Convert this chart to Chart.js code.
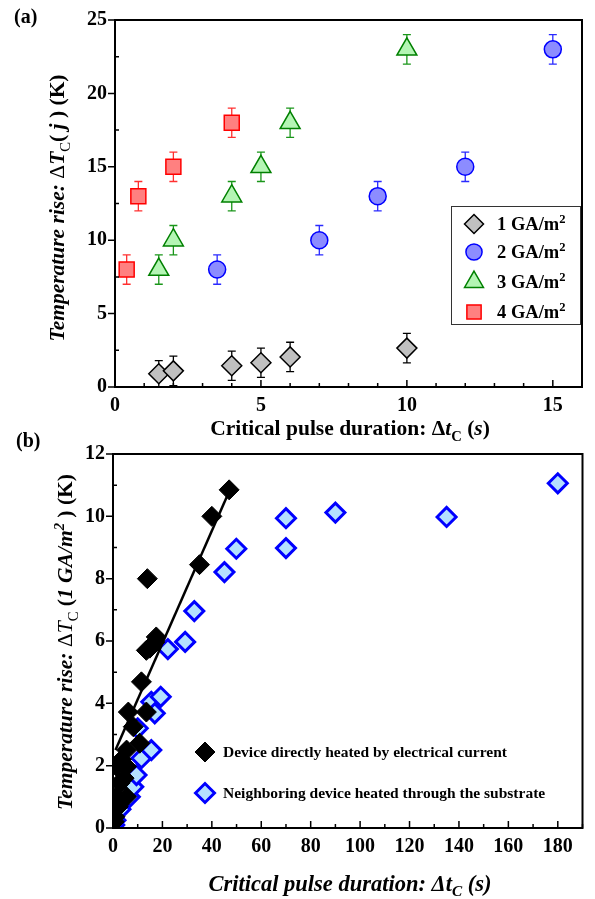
<!DOCTYPE html>
<html><head><meta charset="utf-8">
<script src="https://cdn.jsdelivr.net/npm/chart.js@4.4.0/dist/chart.umd.min.js"></script>
<style>
html,body{margin:0;padding:0;background:#fff;}
body{width:595px;height:899px;position:relative;overflow:hidden;font-family:"Liberation Serif","Times New Roman",serif;}
canvas{position:absolute;left:0;}
#ca{top:0;} #cb{top:430px;}
.t{position:absolute;white-space:nowrap;font-weight:bold;color:#000;line-height:1;}
.rot{transform:translate(-50%,-50%) rotate(-90deg);}
.ctr{transform:translate(-50%,-50%);}
.lft{transform:translate(0,-50%);}
sub,sup{font-size:68%;line-height:0;}
#lga{position:absolute;left:451px;top:206px;width:128px;height:117px;border:1.5px solid #333;background:transparent;}
</style></head>
<body>
<canvas id="ca" width="595" height="430"></canvas>
<canvas id="cb" width="595" height="469"></canvas>
<div id="lga"></div>
<div class="t" style="left:14px;top:6px;font-size:20px;">(a)</div>
<div class="t" style="left:16px;top:430px;font-size:20px;">(b)</div>
<div class="t ctr" style="left:350px;top:429px;font-size:21.5px;">Critical pulse duration: Δ<i>t</i><sub>C</sub> (<i>s</i>)</div>
<div class="t rot" style="left:58px;top:208px;font-size:21.5px;"><i>Temperature rise:</i> <span style="font-weight:normal">Δ</span><i>T</i><sub style="font-weight:normal">C</sub>( <i>j</i> ) (K)</div>
<div class="t rot" style="left:66px;top:642px;font-size:21.5px;"><i>Temperature rise:</i> <span style="font-weight:normal">Δ<i>T</i><sub>C</sub></span> (<i>1 GA/m<sup>2</sup></i> ) (K)</div>
<div class="t ctr" style="left:350px;top:884px;font-size:22.5px;"><i>Critical pulse duration: Δt<sub>C</sub> (s)</i></div>
<div id="legA"></div>
<div id="legB"></div>
<script>
// ---------- Panel (a) data ----------
const aSeries = ['1 GA/m', '2 GA/m', '3 GA/m', '4 GA/m'];
const aX1 = [1.5, 2, 4, 5, 6, 10];
const aY1 = [0.9, 1.1, 1.45, 1.65, 2.05, 2.65];
const aE1 = [0.9, 1, 1, 1, 1, 1];
const aX2 = [3.5, 7, 9, 12, 15];
const aY2 = [8, 10, 13, 15, 23];
const aE2 = [1, 1, 1, 1, 1];
const aX3 = [1.5, 2, 4, 5, 6, 10];
const aY3 = [8, 10, 13, 15, 18, 23];
const aE3 = [1, 1, 1, 1, 1, 1];
const aX4 = [0.4, 0.8, 2, 4];
const aY4 = [8, 13, 15, 18];
const aE4 = [1, 1, 1, 1];
const aXTicks = [0, 5, 10, 15];
const aYTicks = [0, 5, 10, 15, 20, 25];

// ---------- Panel (b) data ----------
const bSeries = ['Device directly heated by electrical current', 'Neighboring device heated through the substrate'];
const bX1 = [0.5, 0.8, 1.2, 2.1, 2.8, 1.5, 3.5, 4.5, 5.5, 5.5, 5.5, 6.2, 8.2, 10.8, 13.5, 11.5, 14.9, 13.5, 17.5, 16.9, 13.9, 35, 40, 47];
const bY1 = [0.2, 0.36, 1.0, 0.68, 1.44, 1.97, 2.2, 1.6, 1.0, 1.97, 2.5, 3.72, 3.25, 2.72, 3.72, 4.69, 5.77, 5.7, 6.13, 5.96, 8.0, 8.45, 10.0, 10.85];
const bX2 = [0.5, 1, 3, 6.8, 8.2, 9.5, 11.5, 10, 15.5, 15.5, 16.9, 19.3, 22.2, 29.2, 32.9, 45.1, 49.9, 70, 70, 90, 135, 180];
const bY2 = [0.1, 0.25, 0.6, 1.0, 1.32, 1.7, 2.24, 3.2, 2.5, 4.05, 3.68, 4.21, 5.74, 5.97, 6.96, 8.21, 8.96, 8.98, 9.94, 10.12, 9.98, 11.06];
const fitX = [1, 47];
const fitY = [2.5, 10.8];
const bXTicks = [0, 20, 40, 60, 80, 100, 120, 140, 160, 180];
const bYTicks = [0, 2, 4, 6, 8, 10, 12];

const pts = (xs, ys) => xs.map((x, i) => ({x: x, y: ys[i]}));
const FONT = '"Liberation Serif","Times New Roman",serif';
const tickFont = {family: FONT, size: 20, weight: 'bold'};

function drawMarker(ctx, style, r, x, y, fill, stroke, bw) {
  ctx.save();
  ctx.fillStyle = fill; ctx.strokeStyle = stroke; ctx.lineWidth = bw;
  if (Chart.helpers && Chart.helpers.drawPoint) {
    Chart.helpers.drawPoint(ctx, {pointStyle: style, radius: r, rotation: 0, borderWidth: bw}, x, y);
  }
  ctx.restore();
}

const errorBars = {
  id: 'errorBars',
  beforeDatasetsDraw(chart) {
    const ctx = chart.ctx, xs = chart.scales.x, ys = chart.scales.y;
    chart.data.datasets.forEach(ds => {
      if (!ds.err) return;
      ctx.save();
      ctx.strokeStyle = ds.errColor; ctx.lineWidth = 1.3;
      ds.data.forEach((p, i) => {
        const px = xs.getPixelForValue(p.x);
        const y1 = ys.getPixelForValue(p.y + ds.err[i]);
        const y2 = ys.getPixelForValue(p.y - ds.err[i]);
        ctx.beginPath();
        ctx.moveTo(px, y1); ctx.lineTo(px, y2);
        ctx.moveTo(px - 4, y1); ctx.lineTo(px + 4, y1);
        ctx.moveTo(px - 4, y2); ctx.lineTo(px + 4, y2);
        ctx.stroke();
      });
      ctx.restore();
    });
  }
};

function framePlugin(xMinor, yMinor, legend) {
  return {
    id: 'frame',
    afterDraw(chart) {
      const ctx = chart.ctx, a = chart.chartArea, xs = chart.scales.x, ys = chart.scales.y;
      ctx.save();
      ctx.strokeStyle = '#000';
      ctx.lineWidth = 2;
      ctx.strokeRect(a.left, a.top, a.right - a.left, a.bottom - a.top);
      ctx.lineWidth = 1.5;
      ctx.beginPath();
      for (let v = xs.min; v <= xs.max + 1e-9; v += xMinor) {
        const px = xs.getPixelForValue(v);
        const major = xs.ticks.some(t => Math.abs(t.value - v) < 1e-6);
        ctx.moveTo(px, a.bottom); ctx.lineTo(px, a.bottom - (major ? 7 : 4));
      }
      for (let v = ys.min; v <= ys.max + 1e-9; v += yMinor) {
        const py = ys.getPixelForValue(v);
        const major = ys.ticks.some(t => Math.abs(t.value - v) < 1e-6);
        if (major) { ctx.moveTo(a.left, py); ctx.lineTo(a.left - 7, py); }
        else { ctx.moveTo(a.left, py); ctx.lineTo(a.left + 4, py); }
      }
      ctx.stroke();
      ctx.restore();
      legend.forEach(m => drawMarker(ctx, m.style, m.r, m.x, m.y, m.fill, m.stroke, m.bw));
    }
  };
}

function fixedScales(yWidth, xHeight, xMin, xMax, yMin, yMax, xT, yT) {
  return {
    x: {type: 'linear', min: xMin, max: xMax,
        afterBuildTicks: s => { s.ticks = xT.map(v => ({value: v})); },
        afterFit: s => { s.height = xHeight; },
        grid: {display: false, drawTicks: false}, border: {display: false},
        ticks: {font: tickFont, color: '#000', padding: 7, maxRotation: 0}},
    y: {type: 'linear', min: yMin, max: yMax,
        afterBuildTicks: s => { s.ticks = yT.map(v => ({value: v})); },
        afterFit: s => { s.width = yWidth; },
        grid: {display: false, drawTicks: false}, border: {display: false},
        ticks: {font: tickFont, color: '#000', padding: 8}}
  };
}

const styleA = [
  {style: 'rectRot', r: 10, fill: '#c0c0c0', stroke: '#000000', bw: 1.5, err: '#000000'},
  {style: 'circle', r: 8.5, fill: '#8c8cff', stroke: '#0000ff', bw: 1.5, err: '#2a2aff'},
  {style: 'triangle', r: 11.5, fill: '#b4f5b4', stroke: '#008000', bw: 1.5, err: '#1a961a'},
  {style: 'rect', r: 10.6, fill: '#ff8080', stroke: '#ff0000', bw: 1.5, err: '#ff3030'}
];
const dataA = [[aX1, aY1, aE1], [aX2, aY2, aE2], [aX3, aY3, aE3], [aX4, aY4, aE4]];
const legYA = [224, 252, 282, 312];

new Chart(document.getElementById('ca'), {
  type: 'scatter',
  data: {datasets: dataA.map((d, i) => ({
    label: aSeries[i], data: pts(d[0], d[1]), err: d[2], errColor: styleA[i].err,
    pointStyle: styleA[i].style, pointRadius: styleA[i].r, pointHoverRadius: styleA[i].r,
    backgroundColor: styleA[i].fill, borderColor: styleA[i].stroke, pointBorderWidth: styleA[i].bw, borderWidth: styleA[i].bw
  }))},
  options: {
    responsive: false, animation: false, events: [],
    layout: {padding: {left: 0, right: 9, top: 16, bottom: 0}},
    plugins: {legend: {display: false}, tooltip: {enabled: false}},
    scales: fixedScales(115, 43, 0, 16, 0, 25, aXTicks, aYTicks)
  },
  plugins: [errorBars, framePlugin(1, 2.5, styleA.map((s, i) => ({style: s.style, r: s.r * 0.95, x: 474, y: legYA[i], fill: s.fill, stroke: s.stroke, bw: s.bw})))]
});

const styleB = [
  {style: 'rectRot', r: 10, fill: '#000000', stroke: '#000000', bw: 1},
  {style: 'rectRot', r: 9.5, fill: '#b4e1ff', stroke: '#0000ff', bw: 3}
];
new Chart(document.getElementById('cb'), {
  type: 'scatter',
  data: {datasets: [
    {label: bSeries[0], data: pts(bX1, bY1), order: 1,
     pointStyle: styleB[0].style, pointRadius: styleB[0].r, backgroundColor: styleB[0].fill, borderColor: styleB[0].stroke, borderWidth: styleB[0].bw},
    {label: 'fit', data: pts(fitX, fitY), order: 2, showLine: true, pointRadius: 0, borderColor: '#000', borderWidth: 2.5, backgroundColor: '#000'},
    {label: bSeries[1], data: pts(bX2, bY2), order: 3,
     pointStyle: styleB[1].style, pointRadius: styleB[1].r, backgroundColor: styleB[1].fill, borderColor: styleB[1].stroke, borderWidth: styleB[1].bw}
  ]},
  options: {
    responsive: false, animation: false, events: [],
    layout: {padding: {left: 0, right: 8, top: 24, bottom: 0}},
    plugins: {legend: {display: false}, tooltip: {enabled: false}},
    scales: fixedScales(113, 71, 0, 190, 0, 12, bXTicks, bYTicks)
  },
  plugins: [framePlugin(10, 1, [
    {style: 'rectRot', r: 10, x: 205, y: 322, fill: styleB[0].fill, stroke: styleB[0].stroke, bw: 1},
    {style: 'rectRot', r: 9.5, x: 205, y: 363, fill: styleB[1].fill, stroke: styleB[1].stroke, bw: 3}
  ])]
});

// legend texts
const legA = document.getElementById('legA');
aSeries.forEach((s, i) => {
  const d = document.createElement('div');
  d.className = 't lft';
  d.style.cssText = 'left:497px;top:' + legYA[i] + 'px;font-size:18.5px;';
  d.innerHTML = s + '<sup>2</sup>';
  legA.appendChild(d);
});
const legB = document.getElementById('legB');
[752, 793].forEach((y, i) => {
  const d = document.createElement('div');
  d.className = 't lft';
  d.style.cssText = 'left:223px;top:' + y + 'px;font-size:15.5px;';
  d.textContent = bSeries[i];
  legB.appendChild(d);
});
</script>
</body></html>
